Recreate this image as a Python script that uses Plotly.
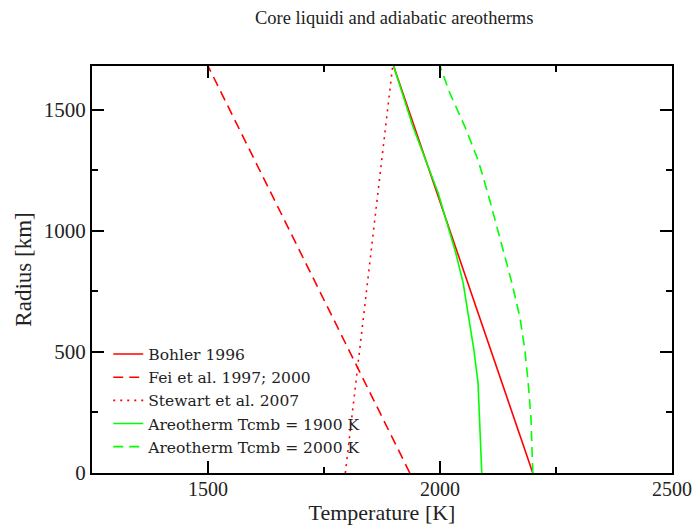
import plotly.graph_objects as go

# Core liquidus curves and adiabats: temperature [K] versus radius [km]
bohler_radius = [0, 1680]
bohler_temp = [2200, 1900]

fei_radius = [0, 1680]
fei_temp = [1935, 1500]

stewart_radius = [0, 1680]
stewart_temp = [1796, 1898]

areo1900_radius = [0, 231, 372, 508, 644, 784, 908, 1156, 1428, 1680]
areo1900_temp = [2090, 2086, 2082, 2073, 2062, 2050, 2034, 1996, 1942, 1900]

areo2000_radius = [0, 231, 372, 508, 644, 784, 892, 1015, 1156, 1292, 1428, 1569, 1680]
areo2000_temp = [2200, 2196, 2190, 2183, 2172, 2155, 2140, 2123, 2103, 2082, 2054, 2021, 2000]

RED = "#ff0000"
GREEN = "#00ff00"
FONT = "Liberation Serif"
TEXT = "#222"

fig = go.Figure()
fig.add_trace(go.Scatter(x=bohler_temp, y=bohler_radius, mode="lines",
                         name="Bohler 1996", line=dict(color=RED, width=1.6)))
fig.add_trace(go.Scatter(x=fei_temp, y=fei_radius, mode="lines",
                         name="Fei et al. 1997; 2000",
                         line=dict(color=RED, width=1.6, dash="10px,6px")))
fig.add_trace(go.Scatter(x=stewart_temp, y=stewart_radius, mode="lines",
                         name="Stewart et al. 2007",
                         line=dict(color=RED, width=1.6, dash="2px,5px")))
fig.add_trace(go.Scatter(x=areo1900_temp, y=areo1900_radius, mode="lines",
                         name="Areotherm Tcmb = 1900 K",
                         line=dict(color=GREEN, width=1.6)))
fig.add_trace(go.Scatter(x=areo2000_temp, y=areo2000_radius, mode="lines",
                         name="Areotherm Tcmb = 2000 K",
                         line=dict(color=GREEN, width=1.6, dash="10px,6px")))

axis_common = dict(
    automargin=False,
    showgrid=False, zeroline=False, showline=True, linecolor="black", linewidth=2,
    mirror="allticks", ticks="inside", ticklen=12, tickwidth=2, tickcolor="black",
    minor=dict(ticks="inside", ticklen=6, tickwidth=2, tickcolor="black", dtick=250),
)

fig.update_xaxes(range=[1250, 2500], tickvals=[1500, 2000, 2500],
                 tickfont=dict(family=FONT, size=20, color=TEXT), ticklabelstandoff=-3,
                 title=dict(text="Temperature [K]", font=dict(family=FONT, size=22, color=TEXT),
                            standoff=2),
                 **axis_common)
fig.update_yaxes(range=[0, 1680], tickvals=[0, 500, 1000, 1500],
                 tickfont=dict(family=FONT, size=21, color=TEXT),
                 title=dict(text="Radius [km]", font=dict(family=FONT, size=23, color=TEXT),
                            standoff=6),
                 **axis_common)

fig.update_layout(
    width=699, height=525,
    margin=dict(l=92, r=27, t=66, b=52),
    paper_bgcolor="white", plot_bgcolor="white",
    title=dict(text="Core liquidi and adiabatic areotherms", x=0.564, xanchor="center",
               y=0.966, yanchor="middle", font=dict(family=FONT, size=18.5, color=TEXT)),
    legend=dict(x=0.028, y=0.333, xanchor="left", yanchor="top", bgcolor="rgba(0,0,0,0)",
                font=dict(family="DejaVu Serif", size=15.5, color=TEXT), tracegroupgap=0),
    showlegend=True,
)

fig.write_html("out.html")
